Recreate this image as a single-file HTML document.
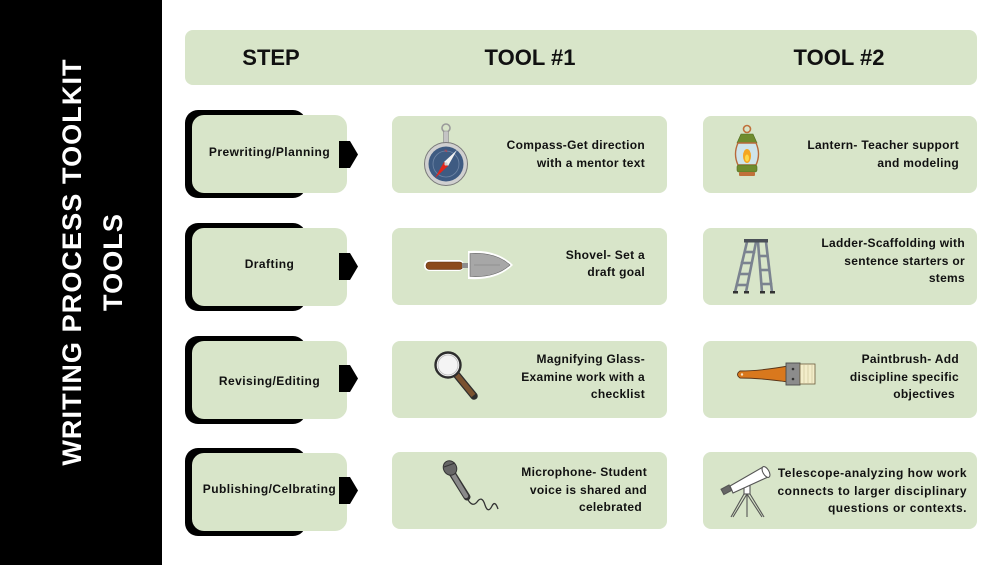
<!DOCTYPE html>
<html>
<head>
<meta charset="utf-8">
<style>
  html,body{margin:0;padding:0;}
  body{width:1005px;height:565px;position:relative;overflow:hidden;background:#ffffff;font-family:"Liberation Sans",Arial,sans-serif;color:#111;}
  .side{position:absolute;left:0;top:0;width:162px;height:565px;background:#000;}
  .title{position:absolute;left:-157px;top:221px;width:500px;height:82px;transform:rotate(-90deg);transform-origin:250px 41px;color:#fff;font-weight:bold;font-size:27px;line-height:41px;text-align:center;letter-spacing:1.1px;}
  .hdr{position:absolute;left:185px;top:30px;width:792px;height:55px;background:#d8e5c9;border-radius:8px;}
  .ht{position:absolute;top:43px;height:30px;line-height:30px;font-weight:bold;font-size:22px;text-align:center;width:200px;}
  .blk{position:absolute;left:185px;width:121px;height:88px;background:#000;border-radius:13px;}
  .grn{position:absolute;left:192px;width:155px;height:78px;background:#d8e5c9;border-radius:12px;}
  .lbl{position:absolute;left:192px;width:155px;text-align:center;font-weight:bold;font-size:12px;letter-spacing:0.45px;line-height:16px;}
  .arr{position:absolute;left:339px;width:19px;height:27px;}
  .box{position:absolute;height:77px;background:#d8e5c9;border-radius:8px;}
  .c1{left:392px;width:275px;}
  .c2{left:703px;width:274px;}
  .tt{position:absolute;text-align:right;font-weight:bold;font-size:12px;letter-spacing:0.3px;white-space:nowrap;}
  svg.icons{position:absolute;left:0;top:0;}
</style>
</head>
<body>
<div class="side"></div>
<div class="title">WRITING PROCESS TOOLKIT<br>TOOLS</div>

<div class="hdr"></div>
<div class="ht" style="left:171px;">STEP</div>
<div class="ht" style="left:430px;">TOOL #1</div>
<div class="ht" style="left:739px;">TOOL #2</div>

<!-- step rows -->
<div class="blk" style="top:110px;"></div>
<div class="grn" style="top:115px;"></div>
<div class="lbl" style="top:144px;">Prewriting/Planning</div>
<svg class="arr" style="top:141px;" viewBox="0 0 19 27"><polygon points="0,0 11,0 19,13.5 11,27 0,27" fill="#000"/></svg>

<div class="blk" style="top:223px;"></div>
<div class="grn" style="top:228px;"></div>
<div class="lbl" style="top:256px;">Drafting</div>
<svg class="arr" style="top:253px;" viewBox="0 0 19 27"><polygon points="0,0 11,0 19,13.5 11,27 0,27" fill="#000"/></svg>

<div class="blk" style="top:336px;"></div>
<div class="grn" style="top:341px;"></div>
<div class="lbl" style="top:373px;">Revising/Editing</div>
<svg class="arr" style="top:365px;" viewBox="0 0 19 27"><polygon points="0,0 11,0 19,13.5 11,27 0,27" fill="#000"/></svg>

<div class="blk" style="top:448px;"></div>
<div class="grn" style="top:453px;"></div>
<div class="lbl" style="top:481px;">Publishing/Celbrating</div>
<svg class="arr" style="top:477px;" viewBox="0 0 19 27"><polygon points="0,0 11,0 19,13.5 11,27 0,27" fill="#000"/></svg>

<!-- tool boxes -->
<div class="box c1" style="top:116px;"></div>
<div class="box c2" style="top:116px;"></div>
<div class="box c1" style="top:228px;"></div>
<div class="box c2" style="top:228px;"></div>
<div class="box c1" style="top:341px;"></div>
<div class="box c2" style="top:341px;"></div>
<div class="box c1" style="top:452px;"></div>
<div class="box c2" style="top:452px;"></div>

<!-- tool texts -->
<div class="tt" style="right:360px;top:136px;line-height:18px;">Compass-Get direction<br>with a mentor text</div>
<div class="tt" style="right:46px;top:136px;line-height:18px;">Lantern- Teacher support<br>and modeling</div>
<div class="tt" style="right:360px;top:247px;line-height:17px;">Shovel- Set a<br>draft goal</div>
<div class="tt" style="right:40px;top:235px;line-height:17.5px;">Ladder-Scaffolding with<br>sentence starters or<br>stems</div>
<div class="tt" style="right:360px;top:351px;line-height:17.5px;">Magnifying Glass-<br>Examine work with a<br>checklist</div>
<div class="tt" style="right:46px;top:351px;line-height:17.5px;">Paintbrush- Add<br>discipline specific<br>objectives<span style="display:inline-block;width:4px;"></span></div>
<div class="tt" style="right:358px;top:464px;line-height:17.5px;">Microphone- Student<br>voice is shared and<br>celebrated<span style="display:inline-block;width:5px;"></span></div>
<div class="tt" style="right:38px;top:465px;line-height:17.5px;letter-spacing:0.5px;">Telescope-analyzing how work<br>connects to larger disciplinary<br>questions or contexts.</div>

<!-- icons -->
<svg class="icons" width="1005" height="565" viewBox="0 0 1005 565">
  <!-- compass -->
  <circle cx="446" cy="128" r="4" fill="none" stroke="#9a9a9a" stroke-width="1.6"/>
  <rect x="443.5" y="131" width="5" height="12" rx="1.5" fill="#c4c4c4" stroke="#8a8a8a" stroke-width="0.6"/>
  <circle cx="446" cy="164" r="21.5" fill="#d0d0d0" stroke="#7a7a7a" stroke-width="1"/>
  <circle cx="446" cy="164" r="17.5" fill="#3e5b82"/>
  <circle cx="446" cy="164" r="13" fill="none" stroke="#6f86a6" stroke-width="0.8"/>
  <text x="446" y="152" font-size="4" fill="#e33" text-anchor="middle" font-family="Liberation Sans, sans-serif">N</text>
  <polygon points="457,150 448,166 444,162" fill="#f2f2f2"/>
  <polygon points="435,178 444,162 448,166" fill="#e0251b"/>
  <circle cx="446" cy="164" r="1.6" fill="#ccc"/>

  <!-- lantern -->
  <circle cx="747" cy="129" r="3.5" fill="none" stroke="#c0703a" stroke-width="1.6"/>
  <polygon points="741,134 753,134 757,143 737,143" fill="#6f8c2e" stroke="#4f6a1e" stroke-width="0.6"/>
  <path d="M738,143 Q733,154 738,165 L756,165 Q761,154 756,143 Z" fill="#cfe4ea" stroke="#b8693a" stroke-width="1.4"/>
  <ellipse cx="747" cy="156" rx="4" ry="7" fill="#f5a623"/>
  <ellipse cx="747" cy="158" rx="2" ry="3.5" fill="#ffd84a"/>
  <rect x="737" y="165" width="20" height="7" rx="2" fill="#6f8c2e" stroke="#4f6a1e" stroke-width="0.6"/>
  <rect x="739" y="172" width="16" height="4" rx="1" fill="#c0703a"/>

  <!-- shovel -->
  <rect x="424" y="260" width="40" height="11" rx="5" fill="#fff"/>
  <rect x="426" y="262" width="37" height="7.5" rx="3.5" fill="#8b4a1c" stroke="#5a2e10" stroke-width="0.6"/>
  <rect x="462" y="263" width="8" height="5" fill="#8d8d8d"/>
  <path d="M468,251 Q497,249 513,265 Q497,281 468,279 Z" fill="#fff"/>
  <path d="M470,253.5 Q496,252 510,265 Q496,278 470,276.5 Z" fill="#a7a7a7" stroke="#6a6a6a" stroke-width="0.6"/>
  <path d="M474,265 L500,265" stroke="#8a8a8a" stroke-width="0.7"/>

  <!-- magnifying glass -->
  <line x1="456" y1="374" x2="474" y2="396" stroke="#2d2d2d" stroke-width="7.5" stroke-linecap="round"/>
  <line x1="456" y1="374" x2="473.5" y2="395.5" stroke="#7a5230" stroke-width="5"/>
  <circle cx="448" cy="365" r="12.5" fill="#f4f4f4" stroke="#2d2d2d" stroke-width="2.4"/>
  <circle cx="448" cy="365" r="10" fill="none" stroke="#bbb" stroke-width="0.8"/>

  <!-- microphone -->
  <path d="M467,498 Q472,508 477,502 Q482,495 485,505 Q488,514 492,506 Q495,500 498,509" fill="none" stroke="#333" stroke-width="1.3"/>
  <line x1="452" y1="473" x2="467" y2="497" stroke="#333" stroke-width="7" stroke-linecap="round"/>
  <line x1="452" y1="473" x2="466" y2="496" stroke="#8a8a8a" stroke-width="4.5" stroke-linecap="round"/>
  <ellipse cx="450" cy="468" rx="6.5" ry="7.5" transform="rotate(-30 450 468)" fill="#666" stroke="#333" stroke-width="1"/>
  <line x1="444" y1="467" x2="455" y2="463" stroke="#333" stroke-width="1"/>

  <!-- ladder -->
  <g stroke="#7b8390" stroke-width="2.6" fill="none" stroke-linecap="square">
    <line x1="747" y1="242" x2="735" y2="292"/>
    <line x1="756" y1="242" x2="746" y2="292"/>
    <line x1="745" y1="252" x2="754" y2="252"/>
    <line x1="742" y1="263" x2="751" y2="263"/>
    <line x1="740" y1="274" x2="749" y2="274"/>
    <line x1="737" y1="285" x2="747" y2="285"/>
    <line x1="758" y1="242" x2="762" y2="292"/>
    <line x1="766" y1="242" x2="772" y2="292"/>
    <line x1="760" y1="256" x2="767" y2="256"/>
    <line x1="761" y1="270" x2="769" y2="270"/>
    <line x1="762" y1="284" x2="771" y2="284"/>
  </g>
  <rect x="744" y="239" width="24" height="3.5" fill="#4a4f57"/>
  <g fill="#333"><rect x="733" y="291" width="5" height="2.5"/><rect x="744" y="291" width="5" height="2.5"/><rect x="760" y="291" width="5" height="2.5"/><rect x="770" y="291" width="5" height="2.5"/></g>

  <!-- paintbrush -->
  <path d="M740,371 Q760,371 788,366 L788,382 Q760,378 740,378 Q735,374.5 740,371 Z" fill="#d9781d" stroke="#5a3518" stroke-width="0.9"/>
  <circle cx="742" cy="374.5" r="1.2" fill="#f2e4c8"/>
  <rect x="786" y="363" width="14" height="22" fill="#8c8c8c" stroke="#4a4a4a" stroke-width="0.9"/>
  <circle cx="793" cy="369" r="1.3" fill="#333"/>
  <circle cx="793" cy="379" r="1.3" fill="#333"/>
  <rect x="800" y="364" width="15" height="20" fill="#f3edca" stroke="#6a5a3a" stroke-width="0.8"/>
  <g stroke="#c9bf93" stroke-width="0.6"><line x1="804" y1="365" x2="804" y2="383"/><line x1="808" y1="365" x2="808" y2="383"/><line x1="812" y1="365" x2="812" y2="383"/></g>

  <!-- telescope -->
  <g stroke="#555" stroke-width="1.1" fill="#fff">
    <line x1="747" y1="494" x2="733" y2="517"/>
    <line x1="747" y1="494" x2="747" y2="517"/>
    <line x1="747" y1="494" x2="762" y2="517"/>
    <line x1="744" y1="494" x2="731" y2="517"/>
    <line x1="750" y1="494" x2="764" y2="517"/>
    <rect x="744" y="484" width="6" height="10"/>
    <polygon points="730,486 763,467 768,477 733,493"/>
    <ellipse cx="766" cy="472" rx="3" ry="6" transform="rotate(-30 766 472)"/>
    <rect x="722" y="487" width="9" height="6" transform="rotate(-28 726 490)" fill="#666"/>
  </g>
</svg>
</body>
</html>
